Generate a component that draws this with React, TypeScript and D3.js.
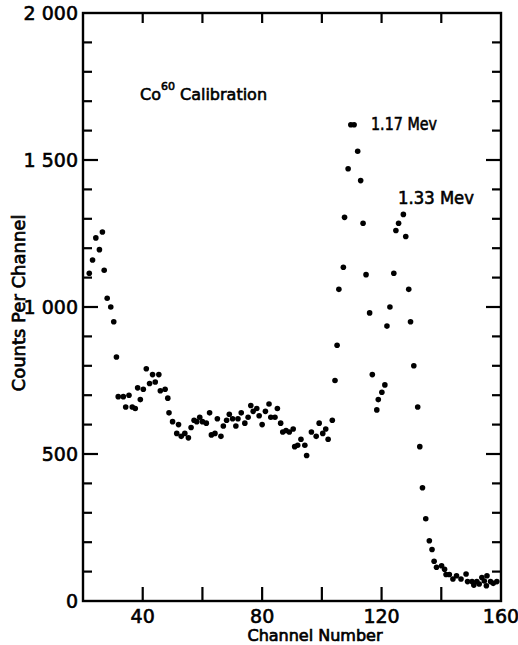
import React from "react";
import * as d3 from "d3";

const channels = [
  22.1, 23.2, 24.3, 25.5, 26.5, 27.1, 28.1, 29.3, 30.3, 31.2, 31.8, 33.5, 34.3, 35.4, 36.5, 37.5, 38.3, 39.2,
  40.2, 41.2, 42.3, 43.3, 44.2, 45.4, 45.9, 47.5, 48.4, 48.8, 50.0, 51.4, 52.0, 52.9, 54.1, 55.3, 56.2, 57.2,
  58.1, 59.1, 60.0, 61.3, 62.4, 63.0, 64.2, 65.0, 66.2, 67.0, 68.1, 69.0, 70.1, 71.2, 71.9, 73.0, 74.2, 75.3,
  76.2, 77.0, 78.2, 79.0, 80.0, 81.1, 82.3, 82.9, 84.3, 85.1, 86.2, 86.9, 88.0, 89.1, 90.4, 90.9, 91.9, 93.0,
  94.3, 94.9, 96.5, 98.1, 99.1, 100.3, 101.3, 102.1, 103.5, 104.4, 105.1, 105.7, 107.2, 107.6, 108.8, 109.7,
  110.8, 112.0, 113.0, 113.8, 114.8, 116.0, 116.9, 118.4, 118.9, 120.1, 121.1, 121.8, 122.8, 124.1, 124.8,
  125.7, 127.3, 128.1, 129.1, 129.7, 130.8, 132.1, 132.8, 133.7, 134.8, 136.0, 136.9, 137.6, 138.4, 140.1,
  141.1, 141.6, 142.7, 143.9, 145.1, 146.6, 148.3, 148.8, 150.3, 150.9, 151.9, 152.7, 153.6, 154.4, 155.1,
  155.3, 156.5, 157.4, 158.6,
];

const counts = [
  1115, 1160, 1235, 1195, 1255, 1125, 1030, 1000, 950, 830, 695, 695, 660, 700, 660, 655, 725, 685,
  720, 790, 740, 770, 745, 770, 715, 720, 690, 640, 610, 570, 600, 560, 570, 555, 590, 615,
  610, 625, 610, 605, 640, 565, 570, 620, 560, 595, 615, 635, 620, 595, 620, 640, 605, 625,
  665, 645, 655, 630, 600, 645, 670, 625, 625, 655, 605, 575, 580, 575, 585, 525, 530, 550,
  530, 495, 575, 560, 605, 570, 585, 550, 615, 750, 870, 1060, 1135, 1305, 1470, 1620,
  1620, 1530, 1430, 1285, 1110, 980, 770, 650, 685, 710, 735, 935, 1000, 1115, 1260,
  1285, 1315, 1240, 1060, 950, 800, 660, 525, 385, 280, 205, 175, 135, 115, 120,
  108, 90, 90, 75, 86, 75, 92, 66, 66, 54, 66, 58, 80, 68, 52,
  86, 66, 60, 66,
];

const xTickValues = [40, 60, 80, 100, 120, 140];
const xLabelValues = [40, 80, 120, 160];
const yMinorValues = d3.range(100, 2000, 100);
const yLabelValues = [0, 500, 1000, 1500, 2000];
const yLabelTexts = ["0", "500", "1 000", "1 500", "2 000"];

const xTitle = "Channel Number";
const yTitle = "Counts Per Channel";
const annotations = [
  { text: "1.17 Mev", x: 371, y: 130, len: 66 },
  { text: "1.33 Mev", x: 398, y: 204, len: 76 },
];

export default function App() {
  const W = 518;
  const H = 645;
  const x = d3.scaleLinear().domain([20, 160]).range([83, 501]);
  const y = d3.scaleLinear().domain([0, 2000]).range([601, 13]);
  const font = "DejaVu Sans";
  const [x0, x1] = x.range();
  const [y0, y1] = y.range();

  return (
    <svg
      width={W}
      height={H}
      style={{ position: "absolute", left: 0, top: 0, background: "#fff" }}
      fontFamily={font}
    >
      <rect x={0} y={0} width={W} height={H} fill="#fff" />
      {/* frame */}
      <rect x={x0} y={y1} width={x1 - x0} height={y0 - y1} fill="none" stroke="#000" strokeWidth={2.4} />
      {/* x ticks */}
      {xTickValues.map((v) => (
        <g key={"xt" + v}>
          <line x1={x(v)} x2={x(v)} y1={y0} y2={y0 - 14} stroke="#000" strokeWidth={2.2} />
          <line x1={x(v)} x2={x(v)} y1={y1} y2={y1 + 10} stroke="#000" strokeWidth={2.2} />
        </g>
      ))}
      {/* y ticks */}
      {yMinorValues.map((v) => {
        const len = v % 500 === 0 ? 15 : 9;
        return (
          <g key={"yt" + v}>
            <line x1={x0} x2={x0 + len} y1={y(v)} y2={y(v)} stroke="#000" strokeWidth={2.2} />
            <line x1={x1} x2={x1 - len} y1={y(v)} y2={y(v)} stroke="#000" strokeWidth={2.2} />
          </g>
        );
      })}
      {/* x tick labels */}
      {xLabelValues.map((v) => (
        <text key={"xl" + v} x={x(v)} y={623} textAnchor="middle" fontSize={19} stroke="#000" strokeWidth={0.6}>
          {v}
        </text>
      ))}
      {/* y tick labels */}
      {yLabelValues.map((v, i) => (
        <text key={"yl" + v} x={78} y={y(v)} dy="0.36em" textAnchor="end" fontSize={19} stroke="#000" strokeWidth={0.6}>
          {yLabelTexts[i]}
        </text>
      ))}
      {/* axis titles */}
      <text x={315} y={641} textAnchor="middle" fontSize={16} stroke="#000" strokeWidth={0.7}>
        {xTitle}
      </text>
      <text
        transform="translate(25,303) rotate(-90)"
        textAnchor="middle"
        fontSize={18}
        stroke="#000"
        strokeWidth={0.7}
      >
        {yTitle}
      </text>
      {/* Co60 annotation */}
      <text x={140} y={100} fontSize={16} stroke="#000" strokeWidth={0.6}>
        Co
        <tspan fontSize={11} dy={-10}>60</tspan>
        <tspan dy={10} dx={5}>Calibration</tspan>
      </text>
      {annotations.map((a) => (
        <text
          key={a.text}
          x={a.x}
          y={a.y}
          fontSize={17}
          stroke="#000"
          strokeWidth={0.6}
          textLength={a.len}
          lengthAdjust="spacingAndGlyphs"
        >
          {a.text}
        </text>
      ))}
      {/* data points */}
      {channels.map((c, i) => (
        <circle key={"p" + i} cx={x(c)} cy={y(counts[i])} r={2.8} fill="#000" />
      ))}
    </svg>
  );
}
